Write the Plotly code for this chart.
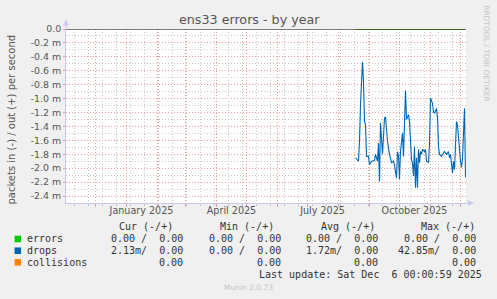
import plotly.graph_objects as go

# ---------------- data ----------------
drop_dates = [
    "2025-08-18", "2025-08-21", "2025-08-22", "2025-08-23", "2025-08-25", "2025-08-26",
    "2025-08-27", "2025-08-28", "2025-08-29", "2025-08-31", "2025-09-01", "2025-09-03",
    "2025-09-06", "2025-09-07", "2025-09-09", "2025-09-10", "2025-09-11", "2025-09-12",
    "2025-09-14", "2025-09-15", "2025-09-16", "2025-09-17", "2025-09-19", "2025-09-21",
    "2025-09-23", "2025-09-25", "2025-09-26", "2025-09-28", "2025-09-29", "2025-09-30",
    "2025-10-01", "2025-10-02", "2025-10-04", "2025-10-05", "2025-10-06", "2025-10-07",
    "2025-10-08", "2025-10-10", "2025-10-11", "2025-10-12", "2025-10-13", "2025-10-14",
    "2025-10-15", "2025-10-16", "2025-10-17", "2025-10-18", "2025-10-19", "2025-10-20",
    "2025-10-21", "2025-10-22", "2025-10-23", "2025-10-24", "2025-10-26", "2025-10-27",
    "2025-10-28", "2025-10-30", "2025-10-31", "2025-11-01", "2025-11-03", "2025-11-04",
    "2025-11-05", "2025-11-07", "2025-11-08", "2025-11-09", "2025-11-10", "2025-11-12",
    "2025-11-14", "2025-11-15", "2025-11-17", "2025-11-19", "2025-11-20", "2025-11-21",
    "2025-11-23", "2025-11-24", "2025-11-25", "2025-11-26", "2025-11-27", "2025-11-28",
    "2025-11-30", "2025-12-01", "2025-12-02", "2025-12-03", "2025-12-05", "2025-12-06",
]
# drops received (plotted negative), in milli-packets per second
drops_in_m = [
    -1.85, -1.90, -1.61, -1.09, -0.47, -0.76,
    -1.33, -1.38, -1.83, -1.83, -1.95, -1.90,
    -1.89, -1.80, -1.90, -1.64, -2.19, -1.35,
    -1.80, -1.45, -1.28, -1.26, -1.61, -1.80,
    -1.92, -1.90, -1.96, -2.14, -1.76, -1.83,
    -2.16, -1.76, -1.49, -1.83, -1.35, -0.88,
    -1.30, -1.23, -1.33, -1.69, -1.88, -1.92,
    -2.11, -1.69, -2.28, -1.85, -2.28, -1.73,
    -1.92, -1.76, -1.80, -1.73, -1.76, -1.73,
    -1.90, -1.92, -1.66, -0.99, -1.07, -1.19,
    -1.21, -1.14, -1.28, -1.69, -1.80, -1.83,
    -1.78, -1.76, -1.80, -1.76, -1.85, -1.80,
    -2.07, -1.90, -2.02, -1.59, -1.33, -1.38,
    -1.76, -1.90, -1.99, -1.86, -1.14, -2.13,
]
errors_in_m = [0.0] * len(drop_dates)
collisions_m = [0.0] * len(drop_dates)

x_range = ["2024-11-01 12:00", "2025-12-06 12:00"]
y_tick_vals = [0.0, -0.2, -0.4, -0.6, -0.8, -1.0, -1.2, -1.4, -1.6, -1.8, -2.0, -2.2, -2.4]
y_tick_text = ["0.0", "-0.2 m", "-0.4 m", "-0.6 m", "-0.8 m", "-1.0 m", "-1.2 m",
               "-1.4 m", "-1.6 m", "-1.8 m", "-2.0 m", "-2.2 m", "-2.4 m"]
x_label_vals = ["2025-01-16", "2025-04-16", "2025-07-16", "2025-10-16"]
x_label_text = ["January 2025", "April 2025", "July 2025", "October 2025"]

series_names = ["errors", "drops", "collisions"]
series_colors = ["#00CC00", "#0066B3", "#FF8000"]
legend_cur = ["0.00 /  0.00", "2.13m/  0.00", "0.00"]
legend_min = ["0.00 /  0.00", "0.00 /  0.00", "0.00"]
legend_avg = ["0.00 /  0.00", "1.72m/  0.00", "0.00"]
legend_max = ["0.00 /  0.00", "42.85m/  0.00", "0.00"]
last_update = "Last update: Sat Dec  6 00:00:59 2025"

# ---------------- geometry ----------------
W, H = 497, 299
L, R, T, B = 65.5, 466, 28.5, 203.5


def px(xp):
    return (xp - L) / (R - L)


def py(yp):
    return (B - yp) / (B - T)


SANS = "DejaVu Sans"
MONO = "DejaVu Sans Mono"
RED_GRID = "#E99A9A"
GRAY_GRID = "#C8C8C8"
AXIS_COL = "#C8C8EE"
DASH = "1px,2px"

fig = go.Figure()

fig.add_trace(go.Scatter(x=drop_dates, y=collisions_m, mode="lines",
                         line=dict(color=series_colors[2], width=1), hoverinfo="skip"))
fig.add_trace(go.Scatter(x=drop_dates, y=errors_in_m, mode="lines",
                         line=dict(color=series_colors[0], width=1), hoverinfo="skip"))
fig.add_trace(go.Scatter(x=drop_dates, y=drops_in_m, mode="lines",
                         line=dict(color=series_colors[1], width=1.1), hoverinfo="skip"))
# invisible trace to carry the label axis
fig.add_trace(go.Scatter(x=x_range, y=[0, 0], xaxis="x2", mode="lines",
                         line=dict(width=0), opacity=0, hoverinfo="skip"))

fig.update_layout(
    width=W, height=H,
    margin=dict(l=L, r=W - R, t=T, b=H - B, pad=0),
    paper_bgcolor="#F0F0F0", plot_bgcolor="#FFFFFF",
    showlegend=False,
    xaxis=dict(
        type="date", range=x_range, showticklabels=False,
        tick0="2024-12-01", dtick="M1",
        showgrid=True, gridcolor=RED_GRID, griddash=DASH, gridwidth=1,
        ticks="outside", ticklen=3, tickcolor=RED_GRID,
        minor=dict(tick0="2024-11-10", dtick=14 * 86400000, showgrid=True,
                   gridcolor=GRAY_GRID, griddash=DASH, gridwidth=1,
                   ticks="outside", ticklen=2, tickcolor=GRAY_GRID),
        showline=True, linecolor=AXIS_COL, linewidth=1,
        zeroline=False, fixedrange=True,
    ),
    xaxis2=dict(
        type="date", range=x_range, overlaying="x", side="bottom",
        tickvals=x_label_vals, ticktext=x_label_text, showgrid=False,
        ticks="", tickfont=dict(family=SANS, size=9.6, color="#555555"),
        showline=False, zeroline=False,
    ),
    yaxis=dict(
        range=[-2.5, 0], tickvals=y_tick_vals, ticktext=y_tick_text,
        tickfont=dict(family=SANS, size=9.4, color="#555555"),
        showgrid=True, gridcolor=RED_GRID, griddash=DASH, gridwidth=1,
        ticks="outside", ticklen=2, tickcolor=RED_GRID,
        minor=dict(dtick=0.1, showgrid=True, gridcolor=GRAY_GRID,
                   griddash=DASH, gridwidth=1),
        showline=True, linecolor=AXIS_COL, linewidth=1,
        zeroline=False, fixedrange=True,
    ),
)

# zero line (drawn on top)
fig.add_shape(type="line", xref="paper", yref="y", x0=0, x1=1, y0=0, y1=0,
              line=dict(color="#000000", width=1.2), layer="above")
# axis extension + arrows
fig.add_shape(type="line", xref="paper", yref="paper", x0=0, x1=0, y0=1, y1=py(23),
              line=dict(color=AXIS_COL, width=1))
fig.add_shape(type="line", xref="paper", yref="paper", x0=1, x1=px(469), y0=0, y1=0,
              line=dict(color=AXIS_COL, width=1))
fig.add_shape(type="path", xref="paper", yref="paper",
              path=f"M {px(62.5)} {py(25)} L {px(68.5)} {py(25)} L {px(65.5)} {py(19)} Z",
              fillcolor="#C8C8F4", line=dict(width=0))
fig.add_shape(type="path", xref="paper", yref="paper",
              path=f"M {px(468)} {py(200.5)} L {px(468)} {py(206.5)} L {px(474)} {py(203.5)} Z",
              fillcolor="#C8C8F4", line=dict(width=0))

ann = []
ann.append(dict(text="ens33 errors - by year", x=px(249), y=py(19), xref="paper", yref="paper",
                showarrow=False, xanchor="center", yanchor="middle",
                font=dict(family=SANS, size=12.7, color="#555555")))
ann.append(dict(text="packets in (-) / out (+) per second", x=px(11), y=py(120),
                xref="paper", yref="paper", showarrow=False, textangle=-90,
                xanchor="center", yanchor="middle",
                font=dict(family=SANS, size=10, color="#555555")))
ann.append(dict(text="RRDTOOL / TOBI OETIKER", x=px(487), y=py(4), xref="paper", yref="paper",
                showarrow=False, textangle=90, xanchor="center", yanchor="top",
                font=dict(family=SANS, size=7.5, color="#C4C4C4")))

# legend table
headers = ["Cur (-/+)", "Min (-/+)", "Avg (-/+)", "Max (-/+)"]
header_right = [174, 275, 375.5, 476.5]
col_right = [184, 282, 379, 477]
cols = [legend_cur, legend_min, legend_avg, legend_max]
row_y = [239.7, 251.5, 263.2]
for h, xr in zip(headers, header_right):
    ann.append(dict(text=h, x=px(xr), y=py(227.5), xref="paper", yref="paper",
                    showarrow=False, xanchor="right", yanchor="middle",
                    font=dict(family=MONO, size=10, color="#333333")))
for i, name in enumerate(series_names):
    ann.append(dict(text=name, x=px(25.5), y=py(row_y[i]), xref="paper", yref="paper",
                    showarrow=False, xanchor="left", yanchor="middle",
                    font=dict(family=MONO, size=10, color="#333333")))
    fig.add_shape(type="rect", xref="paper", yref="paper",
                  x0=px(14), x1=px(20.5), y0=py(row_y[i] - 3.3), y1=py(row_y[i] + 3.3),
                  fillcolor=series_colors[i], line=dict(width=0))
    for c, xr in zip(cols, col_right):
        ann.append(dict(text=c[i], x=px(xr), y=py(row_y[i]), xref="paper", yref="paper",
                        showarrow=False, xanchor="right", yanchor="middle",
                        font=dict(family=MONO, size=10, color="#333333")))
ann.append(dict(text=last_update, x=px(483), y=py(275.7), xref="paper", yref="paper",
                showarrow=False, xanchor="right", yanchor="middle",
                font=dict(family=MONO, size=10, color="#333333")))
ann.append(dict(text="Munin 2.0.73", x=px(248), y=py(288.5), xref="paper", yref="paper",
                showarrow=False, xanchor="center", yanchor="middle",
                font=dict(family=SANS, size=7.5, color="#C4C4C4")))
for a in ann:
    a["borderpad"] = 0
fig.update_layout(annotations=ann)

fig.write_html("out.html")
